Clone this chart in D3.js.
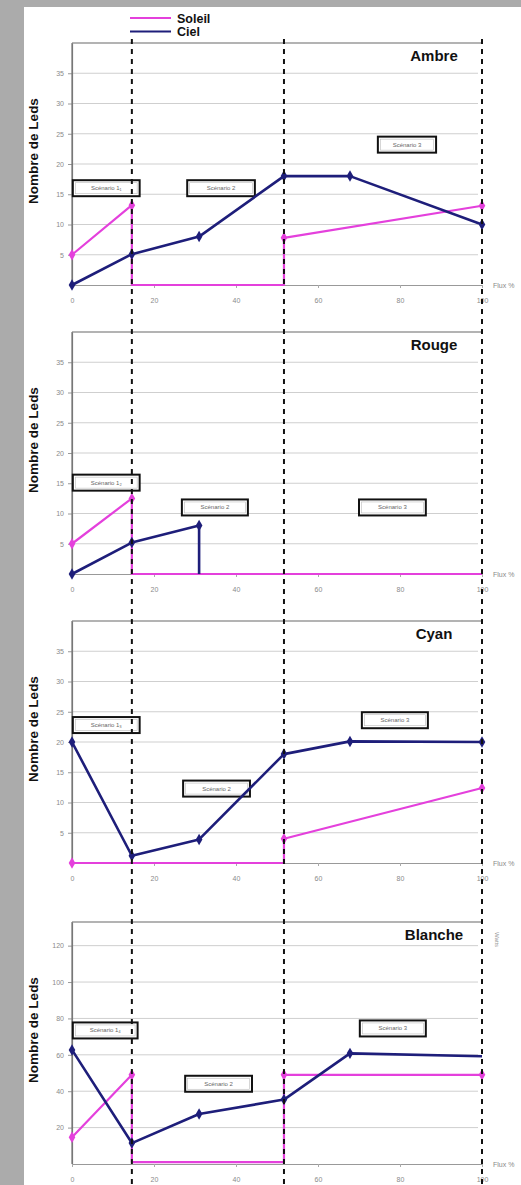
<!DOCTYPE html>
<html>
<head>
<meta charset="utf-8">
<style>
  html, body { margin: 0; padding: 0; background: #ababab; }
  svg { display: block; }
</style>
</head>
<body>
<svg width="521" height="1185"></svg>
<script src="https://d3js.org/d3.v7.min.js"></script>
<script>
var panelNames = ["Ambre", "Rouge", "Cyan", "Blanche"];
var yMax = [40, 40, 40, 133];
var yTicks = [
  [5, 10, 15, 20, 25, 30, 35],
  [5, 10, 15, 20, 25, 30, 35],
  [5, 10, 15, 20, 25, 30, 35],
  [20, 40, 60, 80, 100, 120]
];
var xTicks = [0, 20, 40, 60, 80, 100];
var phaseX = [14.6, 51.7, 100];

var cielAmbre = [[0, 0, 1], [14.6, 5.1, 1], [31, 8, 1], [51.7, 18, 1], [67.8, 18, 1], [100, 10, 1]];
var soleilAmbre = [[0, 5, 1], [14.6, 13.2, 1], [14.6, 0, 0], [51.7, 0, 0], [51.7, 7.8, 1], [100, 13.1, 1]];
var cielRouge = [[0, 0, 1], [14.6, 5.2, 1], [31, 8, 1], [31, 0, 0]];
var soleilRouge = [[0, 5, 1], [14.6, 12.5, 1], [14.6, 0, 0], [100, 0, 0]];
var cielCyan = [[0, 20, 1], [14.6, 1.2, 1], [31, 3.9, 1], [51.7, 18, 1], [67.8, 20.1, 1], [100, 20, 1]];
var soleilCyan = [[0, 0, 1], [51.7, 0, 0], [51.7, 4, 1], [100, 12.4, 1]];
var cielBlanche = [[0, 62.7, 1], [14.6, 11.5, 1], [31, 27.5, 1], [51.7, 35.4, 1], [67.8, 60.8, 1], [100, 59.2, 0]];
var soleilBlanche = [[0, 14.7, 1], [14.6, 49, 1], [14.6, 1, 0], [51.7, 1, 0], [51.7, 49, 1], [100, 49, 1]];

var cielSeries = [cielAmbre, cielRouge, cielCyan, cielBlanche];
var soleilSeries = [soleilAmbre, soleilRouge, soleilCyan, soleilBlanche];

// étiquettes des scénarios : [texte, x début, x fin, y centre]
var scenarioLabels = [
  [["Scénario 1\u2081", 0.2, 16.5, 16], ["Scénario 2", 28.1, 44.6, 16], ["Scénario 3", 74.6, 88.8, 23.2]],
  [["Scénario 1\u2082", 0.2, 16.5, 15.1], ["Scénario 2", 26.8, 42.9, 11], ["Scénario 3", 70, 86.3, 11]],
  [["Scénario 1\u2083", 0.2, 16.5, 22.8], ["Scénario 2", 27.1, 43.4, 12.3], ["Scénario 3", 70.7, 86.8, 23.6]],
  [["Scénario 1\u2084", 0.2, 16, 73.4], ["Scénario 2", 27.6, 43.9, 44.1], ["Scénario 3", 70.2, 86.3, 74.5]]
];

var svg = d3.select("svg");
var soleilColor = "#e440dc";
var cielColor = "#1e1e7a";

// fond blanc
svg.append("rect").attr("x", 24).attr("y", 7).attr("width", 497).attr("height", 1178).attr("fill", "#fff");

var panelTop = [43, 332, 621, 922];
var plotH = 242;
var x = d3.scaleLinear().domain([0, 100]).range([72, 482]);

panelNames.forEach(function (name, i) {
  var top = panelTop[i], bottom = top + plotH;
  var y = d3.scaleLinear().domain([0, yMax[i]]).range([bottom, top]);
  var g = svg.append("g");

  // grille
  g.selectAll(".grid").data(yTicks[i]).enter().append("line")
    .attr("x1", x(0)).attr("x2", x(100) - 4)
    .attr("y1", function (d) { return y(d); }).attr("y2", function (d) { return y(d); })
    .attr("stroke", "#cfcfcf").attr("stroke-width", 1);
  g.append("line").attr("x1", x(0)).attr("x2", x(100)).attr("y1", top).attr("y2", top)
    .attr("stroke", "#9a9a9a").attr("stroke-width", 1.5);

  // axe Y
  var yAxis = g.append("g").attr("transform", "translate(" + x(0) + ",0)")
    .call(d3.axisLeft(y).tickValues(yTicks[i]).tickSize(4).tickSizeOuter(0).tickPadding(4));
  yAxis.select(".domain").attr("stroke", "#777").attr("stroke-width", 1.2);
  yAxis.selectAll(".tick line").attr("stroke", "#999");
  yAxis.selectAll("text").attr("fill", "#8a8a8a").style("font-size", "7px").style("font-family", "Arial, 'Liberation Sans', sans-serif");
  g.append("line").attr("x1", x(0)).attr("x2", x(0)).attr("y1", top).attr("y2", bottom)
    .attr("stroke", "#777").attr("stroke-width", 1.2);

  // axe X
  var xAxis = g.append("g").attr("transform", "translate(0," + bottom + ")")
    .call(d3.axisBottom(x).tickValues(xTicks).tickSize(3).tickSizeOuter(0).tickPadding(10));
  xAxis.select(".domain").attr("stroke", "#999").attr("stroke-width", 1.2);
  xAxis.selectAll(".tick line").attr("stroke", "#aaa");
  xAxis.selectAll("text").attr("fill", "#8a8a8a").style("font-size", "7px").style("font-family", "Arial, 'Liberation Sans', sans-serif");

  g.append("text").attr("x", 493).attr("y", bottom + 3)
    .attr("fill", "#8a8a8a").style("font-size", "7px").style("font-family", "Arial, 'Liberation Sans', sans-serif")
    .text("Flux %");

  // titre du panneau
  g.append("text").attr("x", 434).attr("y", top + 18).attr("text-anchor", "middle")
    .style("font-family", "Arial, 'Liberation Sans', sans-serif").style("font-weight", "bold").style("font-size", "15px")
    .attr("fill", "#111").text(name);

  // titre axe Y
  g.append("text")
    .attr("transform", "translate(38," + (top + plotH / 2 - 13) + ") rotate(-90)")
    .attr("text-anchor", "middle")
    .style("font-family", "Arial, 'Liberation Sans', sans-serif").style("font-weight", "bold").style("font-size", "13.5px")
    .attr("fill", "#111").text("Nombre de Leds");

  // étiquettes scénario
  scenarioLabels[i].forEach(function (s) {
    var bx = x(s[1]), bw = x(s[2]) - x(s[1]), cy = y(s[3]);
    g.append("rect").attr("x", bx).attr("y", cy - 8).attr("width", bw).attr("height", 16)
      .attr("fill", "#fff").attr("stroke", "#111").attr("stroke-width", 2);
    g.append("rect").attr("x", bx + 2.5).attr("y", cy - 5.5).attr("width", bw - 5).attr("height", 11)
      .attr("fill", "none").attr("stroke", "#bbb").attr("stroke-width", 0.6);
    g.append("text").attr("x", bx + bw / 2).attr("y", cy + 2).attr("text-anchor", "middle")
      .style("font-family", "Arial, 'Liberation Sans', sans-serif").style("font-size", "6px")
      .attr("fill", "#666").text(s[0]);
  });

  var line = d3.line().x(function (d) { return x(d[0]); }).y(function (d) { return y(d[1]); });
  var diamond = d3.symbol().type(d3.symbolDiamond).size(38);

  [[soleilSeries[i], soleilColor, 2.2], [cielSeries[i], cielColor, 2.6]].forEach(function (sr) {
    g.append("path").datum(sr[0]).attr("fill", "none").attr("stroke", sr[1])
      .attr("stroke-width", sr[2]).attr("stroke-linejoin", "round").attr("d", line);
    g.selectAll(null).data(sr[0].filter(function (d) { return d[2]; })).enter().append("path")
      .attr("d", diamond)
      .attr("transform", function (d) { return "translate(" + x(d[0]) + "," + y(d[1]) + ")"; })
      .attr("fill", sr[1]);
  });

  if (i === 3) {
    g.append("text").attr("transform", "translate(495," + (top + 10) + ") rotate(90)")
      .attr("fill", "#999").style("font-size", "6px").style("font-family", "Arial, 'Liberation Sans', sans-serif")
      .text("Watts");
  }
});

// lignes de phase en pointillés
svg.selectAll(".phase").data(phaseX).enter().append("line")
  .attr("x1", function (d) { return x(d); }).attr("x2", function (d) { return x(d); })
  .attr("y1", 39).attr("y2", 1185)
  .attr("stroke", "#111").attr("stroke-width", 2).attr("stroke-dasharray", "5,5");

// légende
var legend = [["Soleil", soleilColor], ["Ciel", cielColor]];
legend.forEach(function (l, k) {
  var ly = 18 + k * 13.5;
  svg.append("line").attr("x1", 130).attr("x2", 171).attr("y1", ly).attr("y2", ly)
    .attr("stroke", l[1]).attr("stroke-width", 2);
  svg.append("text").attr("x", 177).attr("y", ly + 4.5)
    .style("font-family", "Arial, 'Liberation Sans', sans-serif").style("font-weight", "bold").style("font-size", "12.5px")
    .attr("fill", "#111").text(l[0]);
});
</script>
</body>
</html>
